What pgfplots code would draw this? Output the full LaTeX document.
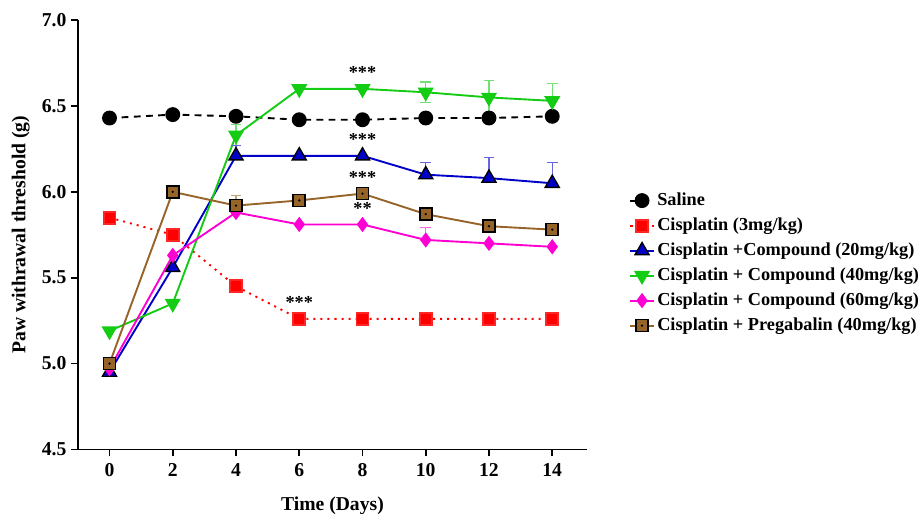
\documentclass[border=0pt]{standalone}
\usepackage{pgfplots}
\pgfplotsset{compat=1.18}
\usepackage{fontspec}
\setmainfont{Liberation Serif}

\definecolor{cgreen}{RGB}{20,204,20}
\definecolor{cblue}{RGB}{0,0,200}
\definecolor{cmag}{RGB}{255,0,210}
\definecolor{cbrown}{RGB}{150,100,40}

% square with a dot in it (pregabalin)
\pgfdeclareplotmark{dotsquare}{%
  \pgfpathrectangle{\pgfpoint{-\pgfplotmarksize}{-\pgfplotmarksize}}{\pgfpoint{2\pgfplotmarksize}{2\pgfplotmarksize}}%
  \pgfusepathqfillstroke
  \begin{pgfscope}
  \pgfpathcircle{\pgfpointorigin}{0.22\pgfplotmarksize}%
  \pgfsetfillcolor{black}\pgfusepathqfill
  \end{pgfscope}}

\begin{document}
\begin{tikzpicture}
\begin{axis}[
  scale only axis,
  width=376pt, height=317pt,
  xmin=-1, xmax=15.1, ymin=4.5, ymax=7.0,
  xtick={0,2,...,14}, ytick={4.5,5.0,...,7.0},
  axis lines=left, axis line style={line width=1.3pt, -},
  tick align=outside, major tick length=5pt,
  tick style={line width=1.2pt, black},
  yticklabel style={/pgf/number format/.cd, fixed, fixed zerofill, precision=1},
  /pgf/number format/assume math mode=true,
  tick label style={font=\bfseries\fontsize{14.5}{17}\selectfont},
  xticklabel style={yshift=-2pt},
  label style={font=\bfseries\fontsize{14.5}{17}\selectfont},
  xlabel={Time (Days)}, ylabel={Paw withrawal threshold (g)},
  xlabel style={yshift=-8pt}, ylabel style={yshift=2pt},
  clip=false,
  legend style={at={(1.075,0.434)}, anchor=west, draw=none, fill=none,
    font=\bfseries\fontsize{13.5}{16}\selectfont, row sep=3.6pt, legend cell align=left},
  error bars/error bar style={line width=0.8pt},
  error bars/error mark=none,
]
% Saline
\addplot[black, dash pattern=on 5pt off 4pt, line width=1.4pt, mark=*, mark size=4.8pt, mark options={solid}]
  coordinates {(0,6.43) (2,6.45) (4,6.44) (6,6.42) (8,6.42) (10,6.43) (12,6.43) (14,6.44)};
\addlegendentry{Saline}
% Cisplatin
\addplot[red, dash pattern=on 1.5pt off 3.7pt, line width=1.4pt, mark=square*, mark size=4.4pt, mark options={solid, draw=red!85}]
  coordinates {(0,5.85) (2,5.75) (4,5.45) (6,5.26) (8,5.26) (10,5.26) (12,5.26) (14,5.26)};
\addlegendentry{Cisplatin (3mg/kg)}
% Compound 20
\addplot[cblue, line width=1.4pt, mark=triangle*, mark size=6pt,
  mark options={fill=cblue, draw=black, line width=1pt},
  error bars/.cd, y dir=plus, y explicit, error bar style={cblue!60}]
  coordinates {(0,4.95) (2,5.56) (4,6.21) +- (0,0.06) (6,6.21) (8,6.21) (10,6.10) +- (0,0.07) (12,6.08) +- (0,0.12) (14,6.05) +- (0,0.12)};
\addlegendentry{Cisplatin +Compound (20mg/kg)}
% Compound 40
\addplot[cgreen, line width=1.4pt, mark=triangle*, mark size=5.5pt,
  mark options={rotate=180, fill=cgreen, draw=cgreen},
  error bars/.cd, y dir=both, y explicit, error bar style={cgreen!60}]
  coordinates {(0,5.19) (2,5.35) (4,6.33) +- (0,0.06) (6,6.60) (8,6.60) (10,6.58) +- (0,0.06) (12,6.55) +- (0,0.10) (14,6.53) +- (0,0.10)};
\addlegendentry{Cisplatin + Compound (40mg/kg)}
% Compound 60
\addplot[cmag, line width=1.4pt, mark=diamond*, mark size=4.5pt,
  mark options={fill=cmag, draw=cmag},
  error bars/.cd, y dir=plus, y explicit, error bar style={cmag!60}]
  coordinates {(0,4.97) (2,5.63) (4,5.88) (6,5.81) (8,5.81) (10,5.72) +- (0,0.07) (12,5.70) (14,5.68)};
\addlegendentry{Cisplatin + Compound (60mg/kg)}
% Pregabalin
\addplot[cbrown, line width=1.4pt, mark=dotsquare, mark size=4.4pt,
  mark options={fill=cbrown, draw=black, line width=1.2pt},
  error bars/.cd, y dir=plus, y explicit, error bar style={cbrown!60}]
  coordinates {(0,5.00) (2,6.00) (4,5.92) +- (0,0.06) (6,5.95) (8,5.99) (10,5.87) (12,5.80) (14,5.78)};
\addlegendentry{Cisplatin + Pregabalin (40mg/kg)}
% error bar caps
\addplot[cblue!60, only marks, mark=-, mark size=4pt, mark options={line width=0.8pt}, forget plot]
  coordinates {(4,6.27) (10,6.17) (12,6.20) (14,6.17)};
\addplot[cgreen!60, only marks, mark=-, mark size=4pt, mark options={line width=0.8pt}, forget plot]
  coordinates {(4,6.39) (10,6.64) (10,6.52) (12,6.65) (14,6.63)};
\addplot[cmag!60, only marks, mark=-, mark size=4pt, mark options={line width=0.8pt}, forget plot]
  coordinates {(10,5.79)};
\addplot[cbrown!60, only marks, mark=-, mark size=4pt, mark options={line width=0.8pt}, forget plot]
  coordinates {(4,5.98)};
% significance marks
\node[font=\bfseries\fontsize{13.5}{15}\selectfont, anchor=south] at (axis cs:8,6.63) {***};
\node[font=\bfseries\fontsize{13.5}{15}\selectfont, anchor=south] at (axis cs:8,6.24) {***};
\node[font=\bfseries\fontsize{13.5}{15}\selectfont, anchor=south] at (axis cs:8,6.02) {***};
\node[font=\bfseries\fontsize{13.5}{15}\selectfont, anchor=south] at (axis cs:8,5.84) {**};
\node[font=\bfseries\fontsize{13.5}{15}\selectfont, anchor=south] at (axis cs:6,5.29) {***};
\coordinate (bl) at (rel axis cs:-0.153,-0.149);
\coordinate (tr) at (rel axis cs:1.656,1.047);
\end{axis}
\pgfresetboundingbox
\path (bl) rectangle (tr);
\end{tikzpicture}
\end{document}
